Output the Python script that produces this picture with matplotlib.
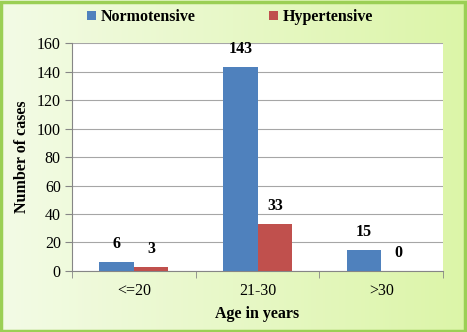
import matplotlib
matplotlib.use("Agg")
import matplotlib.pyplot as plt
import numpy as np
from matplotlib.patches import Rectangle
from matplotlib.colors import LinearSegmentedColormap

categories = ["<=20", "21-30", ">30"]
normotensive = [6, 143, 15]
hypertensive = [3, 33, 0]
yticks = [0, 20, 40, 60, 80, 100, 120, 140, 160]

plt.rcParams['font.family'] = ['Liberation Serif', 'DejaVu Serif']
FS = 11.5

fig = plt.figure(figsize=(4.67, 3.32), dpi=100)

# gradient background
bg = fig.add_axes([0, 0, 1, 1], zorder=-10)
grad = np.linspace(0, 1, 256)[None, :]
cmap = LinearSegmentedColormap.from_list("g", ["#f3fbe6", "#dcf5a8"])
bg.imshow(grad, aspect='auto', cmap=cmap, extent=[0, 1, 0, 1])
bg.add_patch(Rectangle((0.002, 0.003), 0.994, 0.992, fill=False, edgecolor="#9bcf55", lw=2.5, transform=bg.transAxes))
bg.set_axis_off()

ax = fig.add_axes([0.154, 0.184, 0.795, 0.686])
ax.set_facecolor("white")
x = np.arange(len(categories))
w = 0.28
b1 = ax.bar(x - w/2, normotensive, w, color="#4F81BD", label="Normotensive", zorder=3)
b2 = ax.bar(x + w/2, hypertensive, w, color="#C0504D", label="Hypertensive", zorder=3)

for bars, vals in ((b1, normotensive), (b2, hypertensive)):
    for r, v in zip(bars, vals):
        ax.annotate(str(v), (r.get_x() + r.get_width()/2, v), xytext=(0, 13),
                    textcoords="offset points", ha="center", va="center",
                    fontsize=FS, fontweight="bold")

ax.set_xlim(-0.5, 2.5)
ax.set_ylim(0, 160)
ax.set_yticks(yticks)
ax.yaxis.grid(True, color="#a6a6a6", lw=0.8, zorder=0)
ax.set_axisbelow(True)
ax.set_xticks(x)
ax.set_xticklabels(categories)
ax.set_xticks([-0.5, 0.5, 1.5, 2.5], minor=True)
ax.tick_params(axis='x', which='major', length=0, pad=9, labelsize=FS)
ax.tick_params(axis='x', which='minor', length=5, color="#868686", direction='out')
ax.tick_params(axis='y', length=5, color="#868686", labelsize=FS, pad=3)
for s in ("top", "right"):
    ax.spines[s].set_visible(False)
for s in ("left", "bottom"):
    ax.spines[s].set_color("#868686")
ax.set_xlabel("Age in years", fontsize=FS, fontweight="bold", labelpad=5)
ax.set_ylabel("Number of cases", fontsize=FS, fontweight="bold", labelpad=5)

leg = fig.legend(handles=[b1, b2], loc="center", bbox_to_anchor=(0.492, 0.948), ncol=2,
                 frameon=False, prop={'weight': 'bold', 'size': FS},
                 handlelength=0.55, handleheight=0.55, handletextpad=0.3, columnspacing=4.6)

fig.savefig("out.png", dpi=100)
